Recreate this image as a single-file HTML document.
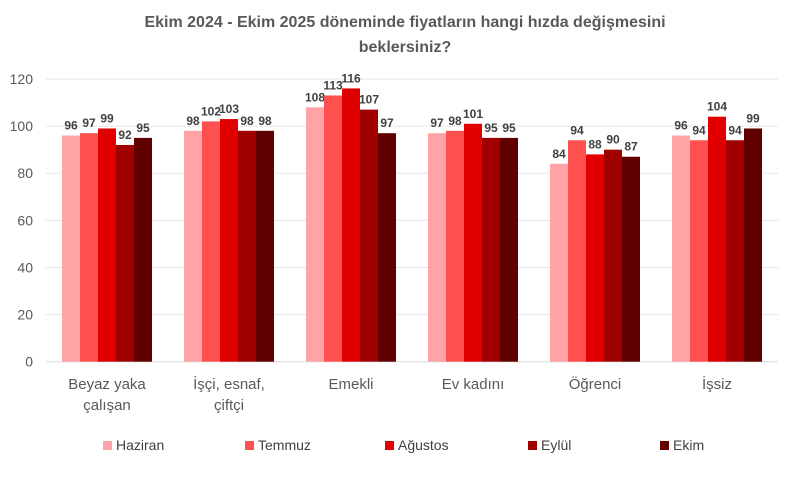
<!DOCTYPE html>
<html><head><meta charset="utf-8"><style>
body{margin:0;background:#fff;font-family:"Liberation Sans",sans-serif;}
#wrap{position:relative;width:785px;height:480px;overflow:hidden;}
</style></head><body>
<div id="wrap">
<svg id="chart" width="785" height="480">
<text x="405" y="27" text-anchor="middle" font-size="16" font-weight="bold" fill="#595959">Ekim 2024 - Ekim 2025 döneminde fiyatların hangi hızda değişmesini</text>
<text x="405" y="52" text-anchor="middle" font-size="16" font-weight="bold" fill="#595959">beklersiniz?</text>
</svg>
</div>
<script>
const categories=[["Beyaz yaka","çalışan"],["İşçi, esnaf,","çiftçi"],["Emekli"],["Ev kadını"],["Öğrenci"],["İşsiz"]];
const seriesNames=["Haziran","Temmuz","Ağustos","Eylül","Ekim"];
const haziran=[96,98,108,97,84,96];
const temmuz=[97,102,113,98,94,94];
const agustos=[99,103,116,101,88,104];
const eylul=[92,98,107,95,90,94];
const ekim=[95,98,97,95,87,99];
const yTicks=[0,20,40,60,80,100,120];
const series=[haziran,temmuz,agustos,eylul,ekim];
const colors=["#ffa3a6","#ff5050","#e00000","#a00000","#600000"];
const svg=document.getElementById('chart');
const NS="http://www.w3.org/2000/svg";
const plotLeft=46,plotRight=778,plotTop=79,plotBottom=361.7,yMax=120;
const yScale=v=>plotBottom-(v/yMax)*(plotBottom-plotTop);
const bandW=(plotRight-plotLeft)/categories.length;
const barW=18;
function mk(t,a){const e=document.createElementNS(NS,t);for(const k in a)e.setAttribute(k,a[k]);svg.appendChild(e);return e;}
yTicks.forEach(t=>{
 const l=mk('line',{x1:plotLeft,x2:plotRight,y1:yScale(t),y2:yScale(t),stroke:t===0?'#d9d9d9':'#e6e6e6','stroke-width':1});
 
 
 const tx=mk('text',{x:33,y:yScale(t)+5,'text-anchor':'end','font-size':14,fill:'#595959'});
 tx.textContent=t;
 
 
});
categories.forEach((c,i)=>{
 const cx=plotLeft+bandW*(i+0.5);
 const x0=cx-barW*series.length/2;
 series.forEach((s,j)=>{
  const v=s[i];
  const r=mk('rect',{x:x0+j*barW,y:yScale(v),width:barW,height:plotBottom-yScale(v),fill:colors[j]});
  
  
  const lb=mk('text',{x:x0+j*barW+barW/2,y:yScale(v)-6,'text-anchor':'middle','font-size':12,'font-weight':'bold',fill:'#404040'});
  lb.textContent=v;
  
  
 });
 c.forEach((line,k)=>{
  const t=mk('text',{x:cx,y:389+k*21,'text-anchor':'middle','font-size':15,fill:'#595959'});
  t.textContent=line;
  
  
 });
});
const lx=[103,245,385,528,660];
seriesNames.forEach((n,j)=>{
 const r=mk('rect',{x:lx[j],y:441,width:9,height:9,fill:colors[j]});
 
 
 const t=mk('text',{x:lx[j]+13,y:450,'font-size':14,fill:'#404040'});
 t.textContent=n;
 
 
});
</script>
</body></html>
